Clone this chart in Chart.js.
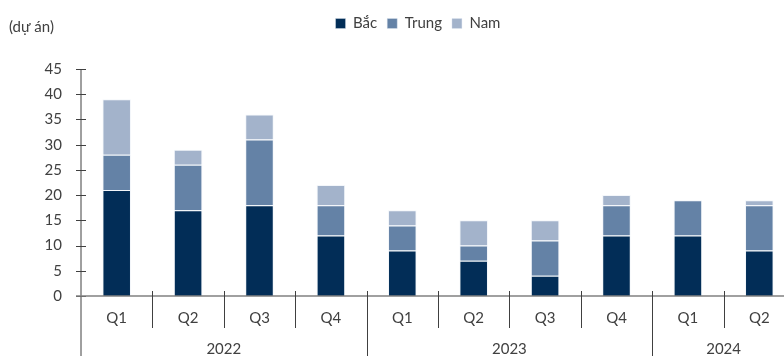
<!DOCTYPE html>
<html lang="vi">
<head>
  <meta charset="UTF-8">
  <title>Dự án theo miền</title>
  <script src="https://cdn.jsdelivr.net/npm/chart.js"></script>
  <style>
    body { margin: 0; background: #fff; }
    #wrap { width: 784px; height: 356px; overflow: hidden; position: relative; }
    #box { width: 800px; height: 356px; }
  </style>
</head>
<body>
  <div id="wrap"><div id="box"><canvas id="chart"></canvas></div></div>

  <script>
    // số dự án theo quý, chia theo miền
    const quarters = ['Q1', 'Q2', 'Q3', 'Q4', 'Q1', 'Q2', 'Q3', 'Q4', 'Q1', 'Q2'];
    const years = ['2022', '2023', '2024'];
    const yearSpans = [4, 4, 2];
    const bac = [21, 17, 18, 12, 9, 7, 4, 12, 12, 9];
    const trung = [7, 9, 13, 6, 5, 3, 7, 6, 7, 9];
    const nam = [11, 3, 5, 4, 3, 5, 4, 2, 0, 1];

    const FONT = 'Lato, "Noto Sans", sans-serif';
    const TEXT = '#404040';

    // chừa khoảng trống giữa chú thích và vùng vẽ
    const legendGap = {
      id: 'legendGap',
      beforeInit(chart) {
        const fit = chart.legend.fit;
        chart.legend.fit = function () {
          fit.call(this);
          this.height += 28;
        };
      }
    };

    // trục nhóm: vạch chia quý / năm và nhãn năm
    const groupAxis = {
      id: 'groupAxis',
      afterDraw(chart) {
        const ctx = chart.ctx;
        const x = chart.scales.x, y = chart.scales.y;
        const base = y.getPixelForValue(0);
        const half = (x.getPixelForValue(1) - x.getPixelForValue(0)) / 2;
        const left = x.getPixelForValue(0) - half;
        ctx.save();

        // trục Y và vạch chia
        ctx.strokeStyle = '#404040';
        ctx.lineWidth = 1;
        ctx.beginPath();
        ctx.moveTo(left, y.getPixelForValue(45));
        ctx.lineTo(left, chart.height);
        y.ticks.forEach(t => {
          const py = Math.round(y.getPixelForValue(t.value)) + 0.5;
          ctx.moveTo(left - 5, py);
          ctx.lineTo(left + 5, py);
        });
        ctx.stroke();

        // trục X
        ctx.strokeStyle = '#808080';
        ctx.lineWidth = 1.5;
        ctx.beginPath();
        ctx.moveTo(left - 5, base);
        ctx.lineTo(chart.width, base);
        ctx.stroke();

        // vạch chia quý và năm
        const yearEdges = [];
        let acc = 0;
        yearSpans.forEach(s => { yearEdges.push(acc); acc += s; });
        ctx.strokeStyle = '#404040';
        ctx.lineWidth = 1;
        ctx.beginPath();
        for (let i = 1; i < quarters.length; i++) {
          const px = Math.round(x.getPixelForValue(i) - half) + 0.5;
          ctx.moveTo(px, base - 5);
          ctx.lineTo(px, yearEdges.includes(i) ? chart.height : base + 32);
        }
        ctx.stroke();

        // nhãn năm
        ctx.fillStyle = TEXT;
        ctx.font = '15px ' + FONT;
        ctx.textAlign = 'center';
        ctx.textBaseline = 'middle';
        years.forEach((yr, k) => {
          const a = x.getPixelForValue(yearEdges[k]) - half;
          const b = x.getPixelForValue(yearEdges[k] + yearSpans[k] - 1) + half;
          ctx.fillText(yr, (a + b) / 2, base + 53);
        });

        // đơn vị
        ctx.textAlign = 'left';
        ctx.fillText('(dự án)', 9, 27);
        ctx.restore();
      }
    };

    const segBorder = 'rgba(225,232,242,0.4)';

    new Chart(document.getElementById('chart'), {
      type: 'bar',
      data: {
        labels: quarters,
        datasets: [
          { label: 'Bắc', data: bac, backgroundColor: '#022d57', borderColor: segBorder, borderWidth: 1, borderSkipped: 'bottom' },
          { label: 'Trung', data: trung, backgroundColor: '#6482a6', borderColor: segBorder, borderWidth: 1, borderSkipped: 'bottom' },
          { label: 'Nam', data: nam, backgroundColor: '#a3b3cb', borderColor: segBorder, borderWidth: 1, borderSkipped: 'bottom' }
        ]
      },
      options: {
        responsive: true,
        maintainAspectRatio: false,
        animation: false,
        categoryPercentage: 1,
        barPercentage: 0.4,
        layout: { padding: { left: 41, right: 5, top: 6, bottom: 0 } },
        plugins: {
          tooltip: { enabled: false },
          legend: {
            position: 'top',
            labels: {
              font: { family: FONT, size: 15 },
              color: TEXT,
              boxWidth: 10,
              boxHeight: 10,
              padding: 10
            }
          }
        },
        scales: {
          x: {
            stacked: true,
            grid: { display: false, drawTicks: false },
            border: { display: false },
            ticks: { font: { family: FONT, size: 15 }, color: TEXT, padding: 13, maxRotation: 0 },
            afterFit(scale) { scale.height = 60; }
          },
          y: {
            stacked: true,
            min: 0,
            max: 45,
            grid: { display: false, drawTicks: false },
            border: { display: false },
            ticks: { stepSize: 5, font: { family: FONT, size: 15 }, color: TEXT, padding: 19 },
            afterFit(scale) { scale.width = 40; }
          }
        }
      },
      plugins: [legendGap, groupAxis]
    });
  </script>
</body>
</html>
